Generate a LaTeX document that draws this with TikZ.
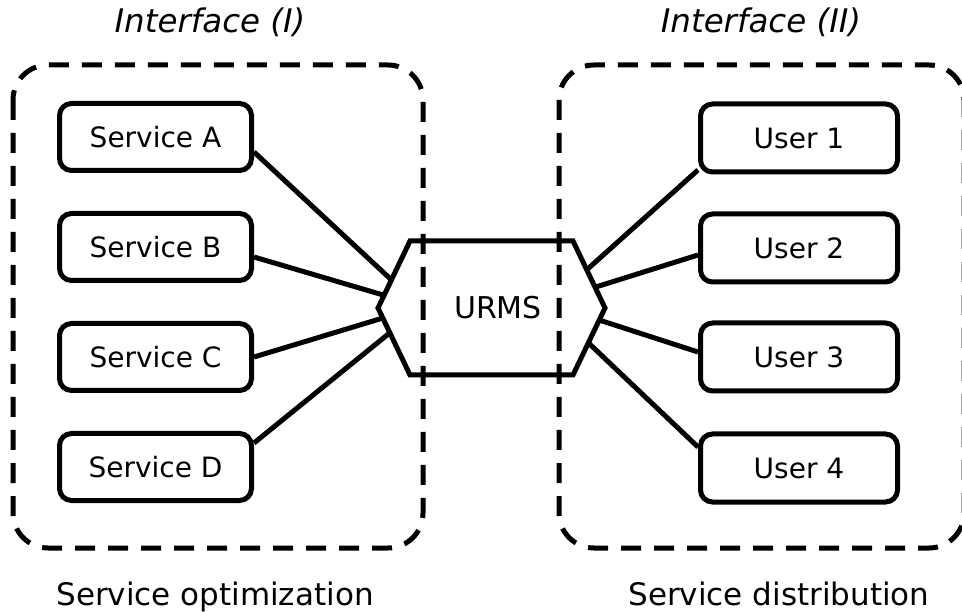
\documentclass[tikz,border=0pt]{standalone}
\usepackage{fontspec}
\setmainfont{DejaVu Sans}
\usetikzlibrary{calc}
\begin{document}
\begin{tikzpicture}[x=1pt,y=-1pt,
  frame/.style={line width=5pt,dash pattern=on 20pt off 13pt,rounded corners=35pt},
  svcbox/.style={draw,line width=5pt,rounded corners=12pt,minimum width=192pt,minimum height=67pt,inner sep=0pt,font=\fontsize{28}{32}\selectfont},
  usrbox/.style={draw,line width=5pt,rounded corners=12pt,minimum width=197pt,minimum height=68pt,inner sep=0pt,font=\fontsize{28}{32}\selectfont},
  link/.style={line width=5pt},
  hexa/.style={line width=5pt,line join=miter},
  title/.style={anchor=base,font=\fontsize{32.5}{37}\selectfont\itshape,inner sep=0pt},
  caption/.style={anchor=base,font=\fontsize{31}{36}\selectfont,inner sep=0pt}]
\useasboundingbox (0,0) rectangle (962,612);
% dashed frames
\draw[frame] (13,65) rectangle (423,548);
\draw[frame] (559,65) rectangle (964,548);
% hexagon
\coordinate (hl) at (378,308);
\coordinate (htl) at (410,241);
\coordinate (htr) at (573,241);
\coordinate (hr) at (605,308);
\coordinate (hbr) at (573,375);
\coordinate (hbl) at (410,375);
\draw[hexa] (hl) -- (htl) -- (htr) -- (hr) -- (hbr) -- (hbl) -- cycle;
\node[font=\fontsize{30}{34}\selectfont] (urms) at (498,308) {URMS};
% boxes
\node[svcbox] (sa) at (155.5,137) {Service A};
\node[svcbox] (sb) at (155.5,247) {Service B};
\node[svcbox] (sc) at (155.5,357) {Service C};
\node[svcbox] (sd) at (155.5,467) {Service D};
\node[usrbox] (u1) at (799,138) {User 1};
\node[usrbox] (u2) at (799,248) {User 2};
\node[usrbox] (u3) at (799,357) {User 3};
\node[usrbox] (u4) at (799,468) {User 4};
% attachment points on the hexagon
\coordinate (ea) at ($(hl)!0.42!(htl)$);
\coordinate (eb) at ($(hl)!0.19!(htl)$);
\coordinate (ec) at ($(hl)!0.15!(hbl)$);
\coordinate (ed) at ($(hl)!0.37!(hbl)$);
\coordinate (f1) at ($(hr)!0.57!(htr)$);
\coordinate (f2) at ($(hr)!0.31!(htr)$);
\coordinate (f3) at ($(hr)!0.18!(hbr)$);
\coordinate (f4) at ($(hr)!0.52!(hbr)$);
% connectors
\draw[link] ($(sa.east)+(0,15)$) -- (ea);
\draw[link] ($(sb.east)+(0,10)$) -- (eb);
\draw[link] (sc.east) -- (ec);
\draw[link] ($(sd.east)+(0,-24)$) -- (ed);
\draw[link] ($(u1.west)+(0,32)$) -- (f1);
\draw[link] ($(u2.west)+(0,7)$) -- (f2);
\draw[link] ($(u3.west)+(0,-5)$) -- (f3);
\draw[link] ($(u4.west)+(0,-21)$) -- (f4);
% texts
\node[title] (t1) at (210,33) {Interface (I)};
\node[title] (t2) at (761,33) {Interface (II)};
\node[caption] (c1) at (215,605) {Service optimization};
\node[caption] (c2) at (779,605) {Service distribution};
\end{tikzpicture}
\end{document}
